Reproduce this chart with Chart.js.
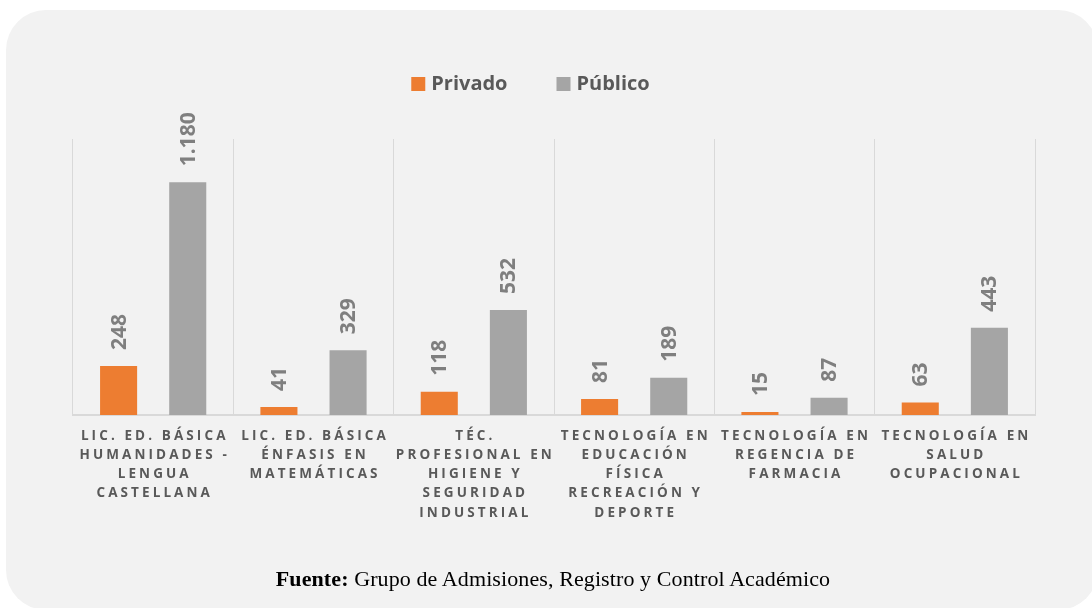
<!DOCTYPE html>
<html>
<head>
<meta charset="utf-8">
<script src="https://cdn.jsdelivr.net/npm/chart.js@4"></script>
<style>
  html, body { margin: 0; padding: 0; background: #ffffff; width: 1092px; height: 608px; overflow: hidden; }
  #panel { position: absolute; left: 6px; top: 10px; width: 1092px; height: 600px; background: #f2f2f2; border-radius: 40px; }
  #wrap { position: absolute; left: 0; top: 0; width: 1092px; height: 608px; }
  #footer { position: absolute; left: 0; width: 1106px; top: 566px; text-align: center; font-family: "Liberation Serif", serif; font-size: 22px; letter-spacing: 0.1px; color: #000; }
</style>
</head>
<body>
<div id="panel"></div>
<div id="wrap"><canvas id="c" width="1092" height="608"></canvas></div>
<div id="footer"><b>Fuente:</b> Grupo de Admisiones, Registro y Control Académico</div>
<script>
const categories = [
  ["LIC. ED. BÁSICA", "HUMANIDADES -", "LENGUA", "CASTELLANA"],
  ["LIC. ED. BÁSICA", "ÉNFASIS EN", "MATEMÁTICAS"],
  ["TÉC.", "PROFESIONAL EN", "HIGIENE Y", "SEGURIDAD", "INDUSTRIAL"],
  ["TECNOLOGÍA EN", "EDUCACIÓN", "FÍSICA", "RECREACIÓN Y", "DEPORTE"],
  ["TECNOLOGÍA EN", "REGENCIA DE", "FARMACIA"],
  ["TECNOLOGÍA EN", "SALUD", "OCUPACIONAL"]
];
const privado = [248, 41, 118, 81, 15, 63];
const publico = [1180, 329, 532, 189, 87, 443];
const seriesNames = ["Privado", "Público"];

function fmt(v) {
  return v.toString().replace(/\B(?=(\d{3})+(?!\d))/g, ".");
}

const valueLabels = {
  id: "valueLabels",
  afterDatasetsDraw(chart) {
    const ctx = chart.ctx;
    ctx.save();
    ctx.font = "bold 21px 'Open Sans'";
    ctx.fillStyle = "#7f7f7f";
    ctx.textAlign = "left";
    ctx.textBaseline = "middle";
    chart.data.datasets.forEach((ds, di) => {
      const meta = chart.getDatasetMeta(di);
      meta.data.forEach((el, i) => {
        ctx.save();
        ctx.translate(el.x + 1, el.y - 16);
        ctx.rotate(-Math.PI / 2);
        ctx.fillText(fmt(ds.data[i]), 0, 0);
        ctx.restore();
      });
    });
    ctx.restore();
  }
};

const catLabels = {
  id: "catLabels",
  afterDraw(chart) {
    const ctx = chart.ctx;
    const xs = chart.scales.x;
    ctx.save();
    ctx.font = "bold 13.5px 'Open Sans'";
    ctx.fillStyle = "#595959";
    ctx.textAlign = "center";
    ctx.textBaseline = "middle";
    const sp = 3.1;
    ctx.letterSpacing = sp + "px";
    categories.forEach((lines, i) => {
      const x = xs.getPixelForValue(i) + sp / 2;
      lines.forEach((t, j) => {
        ctx.fillText(t, x, 436 + j * 19.2);
      });
    });
    ctx.restore();
  }
};

const customLegend = {
  id: "customLegend",
  afterDraw(chart) {
    const ctx = chart.ctx;
    ctx.save();
    ctx.font = "bold 20px 'Open Sans'";
    ctx.textBaseline = "middle";
    ctx.textAlign = "left";
    const box = 14, gapText = 6, gapItem = 49, y = 84;
    const widths = chart.data.datasets.map(ds => box + gapText + ctx.measureText(ds.label).width);
    const total = widths.reduce((a, b) => a + b, 0) + gapItem * (widths.length - 1);
    let x = 530.5 - total / 2;
    chart.data.datasets.forEach((ds, i) => {
      ctx.fillStyle = ds.backgroundColor;
      ctx.fillRect(x, y - 7, box, box);
      ctx.fillStyle = "#595959";
      ctx.fillText(ds.label, x + box + gapText, y);
      x += widths[i] + gapItem;
    });
    ctx.restore();
  }
};

new Chart(document.getElementById("c"), {
  type: "bar",
  data: {
    labels: categories,
    datasets: [
      { label: seriesNames[0], data: privado, backgroundColor: "#ed7d31" },
      { label: seriesNames[1], data: publico, backgroundColor: "#a5a5a5" }
    ]
  },
  options: {
    responsive: false,
    animation: false,
    layout: { padding: { left: 73, right: 57, top: 139, bottom: 193 } },
    datasets: { bar: { categoryPercentage: 0.8625, barPercentage: 0.536 } },
    plugins: { legend: { display: false }, tooltip: { enabled: false } },
    scales: {
      x: {
        grid: { display: true, color: "#d9d9d9", lineWidth: 1, offset: true, drawTicks: false },
        border: { display: true, color: "#d9d9d9", width: 2 },
        ticks: { display: false }
      },
      y: {
        display: false,
        min: 0,
        max: 1400
      }
    }
  },
  plugins: [valueLabels, catLabels, customLegend]
});
</script>
</body>
</html>
